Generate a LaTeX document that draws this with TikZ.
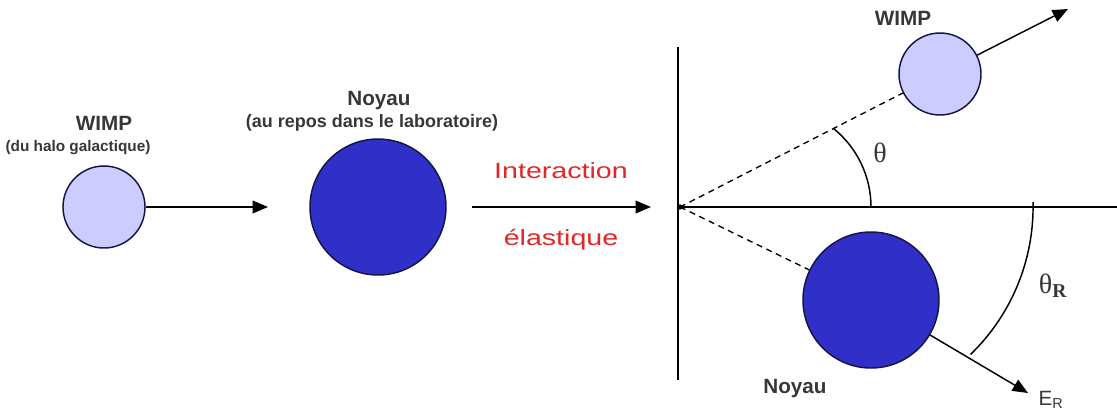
\documentclass[tikz,border=0pt]{standalone}
\usepackage{fontspec}
\setmainfont{Liberation Sans}
\newfontfamily\serifgreek{Liberation Serif}
\usetikzlibrary{arrows.meta}
\definecolor{lav}{RGB}{204,204,255}
\definecolor{nblue}{RGB}{48,48,200}
\definecolor{edge}{RGB}{20,20,70}
\definecolor{txt}{RGB}{55,55,55}
\definecolor{redtxt}{RGB}{225,40,40}
\tikzset{
  wimp/.style={circle, draw=edge, line width=1.1pt, fill=lav, minimum size=61.5pt, inner sep=0pt},
  nucleus/.style={circle, draw=edge, line width=1.1pt, fill=nblue, minimum size=102pt, inner sep=0pt},
  lbl/.style={text=txt, font=\bfseries\fontsize{15.5}{17}\selectfont, inner sep=0pt, anchor=base},
  sublbl/.style={text=txt, font=\bfseries\fontsize{11.5}{13}\selectfont, inner sep=0pt, anchor=base},
  redlbl/.style={text=redtxt, font=\fontsize{16.5}{18}\selectfont, inner sep=0pt, anchor=base},
  arr/.style={line width=1.1pt, -{Triangle[length=11.5pt,width=9.5pt]}},
  plain/.style={line width=1.1pt},
  dashline/.style={line width=1pt, dash pattern=on 4.5pt off 3.5pt},
  anglbl/.style={text=txt, font=\serifgreek\fontsize{21}{23}\selectfont, inner sep=0pt, anchor=base},
}
\begin{document}
\begin{tikzpicture}[x=0.75pt,y=-0.75pt]
\useasboundingbox (0,0) rectangle (1117,419);
% left WIMP
\node[wimp] (w1) at (104,207) {};
\node[lbl] (w1t) at (104,130) {WIMP};
\node[sublbl] (w1s) at (78,151) {(du halo galactique)};
\coordinate (w1tip) at (268,207);
\draw[arr] (w1) -- (w1tip);
% nucleus at rest
\node[nucleus] (n1) at (378,207) {};
\node[lbl] (n1t) at (379,105) {Noyau};
\node[sublbl, font=\bfseries\fontsize{13.5}{15}\selectfont] (n1s) at (372,127) {(au repos dans le laboratoire)};
% interaction arrow
\coordinate (ia) at (472,207);
\coordinate (ib) at (651,207);
\draw[arr] (ia) -- (ib);
\node[redlbl] (it1) at (561,178) {\scalebox{1.3}[1]{Interaction}};
\node[redlbl] (it2) at (561,245) {\scalebox{1.3}[1]{élastique}};
% axes
\coordinate (O) at (680,207);
\coordinate (vt) at (678,47);
\coordinate (vb) at (678,380);
\coordinate (he) at (1117,207);
\draw[plain] (vt) -- (vb);
\draw[plain] (O) -- (he);
\fill (O) circle[radius=2pt];
% scattered WIMP
\node[wimp] (w2) at (940,74) {};
\node[lbl] (w2t) at (903,25) {WIMP};
\coordinate (w2tip) at (1068,9);
\draw[dashline] (O) -- (w2);
\draw[arr] (w2) -- (w2tip);
% recoil nucleus
\node[nucleus] (n2) at (871,300) {};
\node[lbl] (n2t) at (795,393) {Noyau};
\coordinate (n2tip) at (1028,393);
\draw[dashline] (O) -- (n2);
\draw[arr] (n2) -- (n2tip);
\node[text=txt, font=\fontsize{15.5}{17}\selectfont, inner sep=0pt, anchor=base] (er) at (1051,405) {E\textsubscript{R}};
% angles
\draw[plain] (871,207) arc[start angle=0, end angle=51, radius=75.75pt];
\node[anglbl] (th) at (880,162) {θ};
\draw[plain] (1033,202) arc[start angle=1.4, end angle=-46, radius=153.75pt];
\node[anglbl] (thr) at (1053,293) {θ\textsubscript{\bfseries R}};
\end{tikzpicture}
\end{document}
